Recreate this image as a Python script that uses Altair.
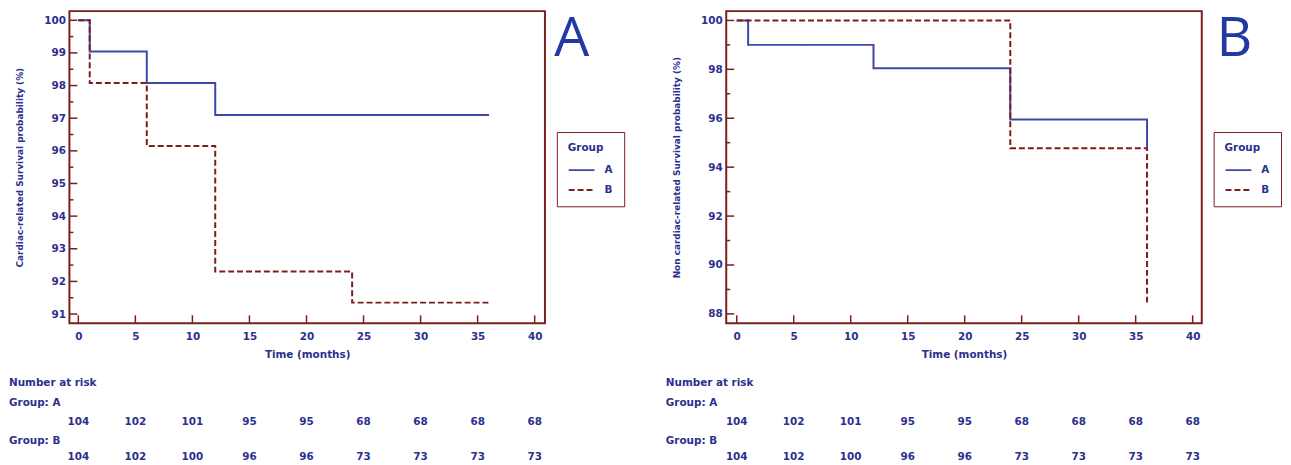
import altair as alt
import pandas as pd

# ---------------- data ----------------
groups = ["A", "B"]

# Panel A: cardiac-related survival (%)
a_time_A = [0, 1, 6, 12, 36]
a_surv_A = [100, 99.04, 98.08, 97.1, 97.1]
a_time_B = [0, 1, 6, 12, 24, 36]
a_surv_B = [100, 98.08, 96.15, 92.3, 91.35, 91.35]

# Panel B: non cardiac-related survival (%)
b_time_A = [0, 1, 12, 24, 36]
b_surv_A = [100, 99.0, 98.04, 95.95, 94.8]
b_time_B = [0, 24, 36]
b_surv_B = [100, 94.77, 88.4]

# Number at risk
risk_times = [0, 5, 10, 15, 20, 25, 30, 35, 40]
risk_A = [104, 102, 101, 95, 95, 68, 68, 68, 68]
risk_B = [104, 102, 100, 96, 96, 73, 73, 73, 73]

x_ticks = [0, 5, 10, 15, 20, 25, 30, 35, 40]
a_y_ticks = [91, 92, 93, 94, 95, 96, 97, 98, 99, 100]
a_y_minor = [91.5, 92.5, 93.5, 94.5, 95.5, 96.5, 97.5, 98.5, 99.5]
b_y_ticks = [88, 90, 92, 94, 96, 98, 100]
b_y_minor = [89, 91, 93, 95, 97, 99]

# ---------------- style ----------------
NAVY = "#2c2f8e"
BLUE = "#4046a8"
RED = "#7a1e1e"
LETTER = "#2238a2"
FONT = "DejaVu Sans"
LFONT = "Open Sans"
FS = 10.5
W, H = 480, 315


def panel(curves, x_dom, y_dom, y_ticks, y_minor, y_title, letter, letter_x):
    xs = alt.Scale(domain=x_dom, nice=False, zero=False)
    ys = alt.Scale(domain=y_dom, nice=False, zero=False)
    x_axis = alt.Axis(
        values=x_ticks, ticks=False, domain=False, grid=False, labelPadding=8,
        labelFlush=False, labelOverlap=False, title="Time (months)", titlePadding=8,
        labelFont=FONT, labelFontSize=FS, labelFontWeight="bold", labelColor=NAVY,
        titleFont=FONT, titleFontSize=FS, titleFontWeight="bold", titleColor=NAVY)
    y_axis = alt.Axis(
        values=y_ticks, ticks=False, domain=False, grid=False, labelPadding=4,
        labelFlush=False, labelOverlap=False, title=y_title, titlePadding=19,
        labelFont=FONT, labelFontSize=FS, labelFontWeight="bold", labelColor=NAVY,
        titleFont=FONT, titleFontSize=9, titleFontWeight="bold", titleColor=NAVY)

    rows = []
    for g, (t, s) in zip(groups, curves):
        for ti, si in zip(t, s):
            rows.append({"time": ti, "surv": si, "group": g})
    df = pd.DataFrame(rows)

    leg = alt.Legend(
        title="Group", orient="none", legendX=492, legendY=122,
        strokeColor=RED, padding=11, cornerRadius=0,
        symbolType="stroke", symbolSize=676, symbolStrokeWidth=2,
        labelOffset=9, labelFont=FONT, labelFontSize=FS, labelFontWeight="bold",
        labelColor=NAVY, titleFont=FONT, titleFontSize=FS, titleFontWeight="bold",
        titleColor=NAVY, titlePadding=3, rowPadding=0,
    )

    lines = alt.Chart(df).mark_line(interpolate="step-after", strokeWidth=2).encode(
        x=alt.X("time:Q", scale=xs, axis=x_axis),
        y=alt.Y("surv:Q", scale=ys, axis=y_axis),
        color=alt.Color("group:N", scale=alt.Scale(domain=groups, range=[BLUE, RED]), legend=leg),
        strokeDash=alt.StrokeDash("group:N", scale=alt.Scale(domain=groups, range=[[1, 0], [6, 3]]), legend=leg),
    )

    xt = alt.Chart(pd.DataFrame({"time": x_ticks})).mark_rule(color=RED, strokeWidth=1.5).encode(
        x=alt.X("time:Q", scale=xs, axis=x_axis), y=alt.value(H - 8), y2=alt.value(H))
    yt = alt.Chart(pd.DataFrame({"surv": y_ticks})).mark_rule(color=RED, strokeWidth=1.5).encode(
        y=alt.Y("surv:Q", scale=ys, axis=y_axis), x=alt.value(0), x2=alt.value(8))
    ym = alt.Chart(pd.DataFrame({"surv": y_minor})).mark_rule(color=RED, strokeWidth=1.5).encode(
        y=alt.Y("surv:Q", scale=ys, axis=y_axis), x=alt.value(0), x2=alt.value(4))

    big = alt.Chart(pd.DataFrame({"l": [letter]})).mark_text(
        font=LFONT, fontSize=56, color=LETTER, align="center", baseline="top").encode(
        text="l:N", x=alt.value(letter_x), y=alt.value(1))

    def label(txt, ypix):
        return alt.Chart(pd.DataFrame({"l": [txt]})).mark_text(
            font=FONT, fontSize=FS, fontWeight="bold", color=NAVY, align="left",
            baseline="middle").encode(text="l:N", x=alt.value(-61), y=alt.value(ypix))

    def numbers(vals, ypix):
        d = pd.DataFrame({"time": risk_times, "n": vals})
        return alt.Chart(d).mark_text(
            font=FONT, fontSize=FS, fontWeight="bold", color=NAVY, align="center",
            baseline="middle").encode(text="n:Q", x=alt.X("time:Q", scale=xs, axis=x_axis),
                                      y=alt.value(ypix))

    return alt.layer(
        lines, xt, yt, ym, big,
        label("Number at risk", 375), label("Group: A", 396), numbers(risk_A, 415),
        label("Group: B", 434), numbers(risk_B, 450),
    ).properties(width=W, height=H)


pA = panel([(a_time_A, a_surv_A), (a_time_B, a_surv_B)], [-0.78, 40.9], [90.72, 100.28],
           a_y_ticks, a_y_minor, "Cardiac-related Survival probability (%)", "A", 507)
pB = panel([(b_time_A, b_surv_A), (b_time_B, b_surv_B)], [-0.92, 40.8], [87.62, 100.38],
           b_y_ticks, b_y_minor, "Non cardiac-related Survival probability (%)", "B", 513)

chart = alt.hconcat(pA, pB, spacing=183, bounds="flush").resolve_scale(
    x="independent", y="independent", color="independent", strokeDash="independent"
).resolve_legend(color="independent", strokeDash="independent").configure_view(
    stroke=RED, strokeWidth=2
).properties(padding={"left": 0, "top": 0, "right": 0, "bottom": 0}, background="white")

chart.save("out.html", embed_options={"renderer": "svg", "actions": False})
